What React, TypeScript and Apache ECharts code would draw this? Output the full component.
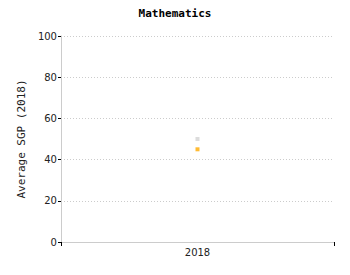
import React, { useEffect, useRef } from "react";
import * as echarts from "echarts";

const categories = ["2018"];
const seriesA = [50];
const seriesB = [45];
const yTicks = [0, 20, 40, 60, 80, 100];

export default function App() {
  const ref = useRef<HTMLDivElement>(null);
  useEffect(() => {
    if (!ref.current) return;
    const chart = echarts.init(ref.current, null, { renderer: "svg" });
    chart.setOption({
      animation: false,
      title: {
        text: "Mathematics",
        left: "center",
        top: -5,
        textStyle: { fontFamily: "DejaVu Sans Mono", fontWeight: "bold", fontSize: 11, color: "#000" },
      },
      grid: { left: 50, right: 8, top: 28, bottom: 25 },
      xAxis: {
        type: "category",
        data: categories,
        boundaryGap: true,
        axisLine: { lineStyle: { color: "#ccc" } },
        axisTick: { show: true, length: 4, lineStyle: { color: "#000" } },
        axisLabel: { fontFamily: "DejaVu Sans", fontSize: 10, color: "#222", margin: 5 },
      },
      yAxis: {
        type: "value",
        min: yTicks[0],
        max: yTicks[yTicks.length - 1],
        interval: 20,
        name: "Average SGP (2018)",
        nameLocation: "middle",
        nameGap: 31,
        nameTextStyle: { fontFamily: "DejaVu Sans Mono", fontSize: 11, color: "#222" },
        axisLine: { show: true, lineStyle: { color: "#ccc" } },
        axisTick: { show: true, length: 3, lineStyle: { color: "#000" } },
        axisLabel: { fontFamily: "DejaVu Sans", fontSize: 10, color: "#222", margin: 4 },
        splitLine: { show: true, lineStyle: { color: "#ccc", type: [1, 2] } },
      },
      series: [
        {
          type: "scatter",
          data: seriesA,
          symbol: "rect",
          symbolSize: 4,
          itemStyle: { color: "#d3d3d3" },
        },
        {
          type: "scatter",
          data: seriesB,
          symbol: "rect",
          symbolSize: 4,
          itemStyle: { color: "#ffaa00" },
        },
      ],
    });
    return () => chart.dispose();
  }, []);
  return <div ref={ref} style={{ width: 334, height: 259 }} />;
}
